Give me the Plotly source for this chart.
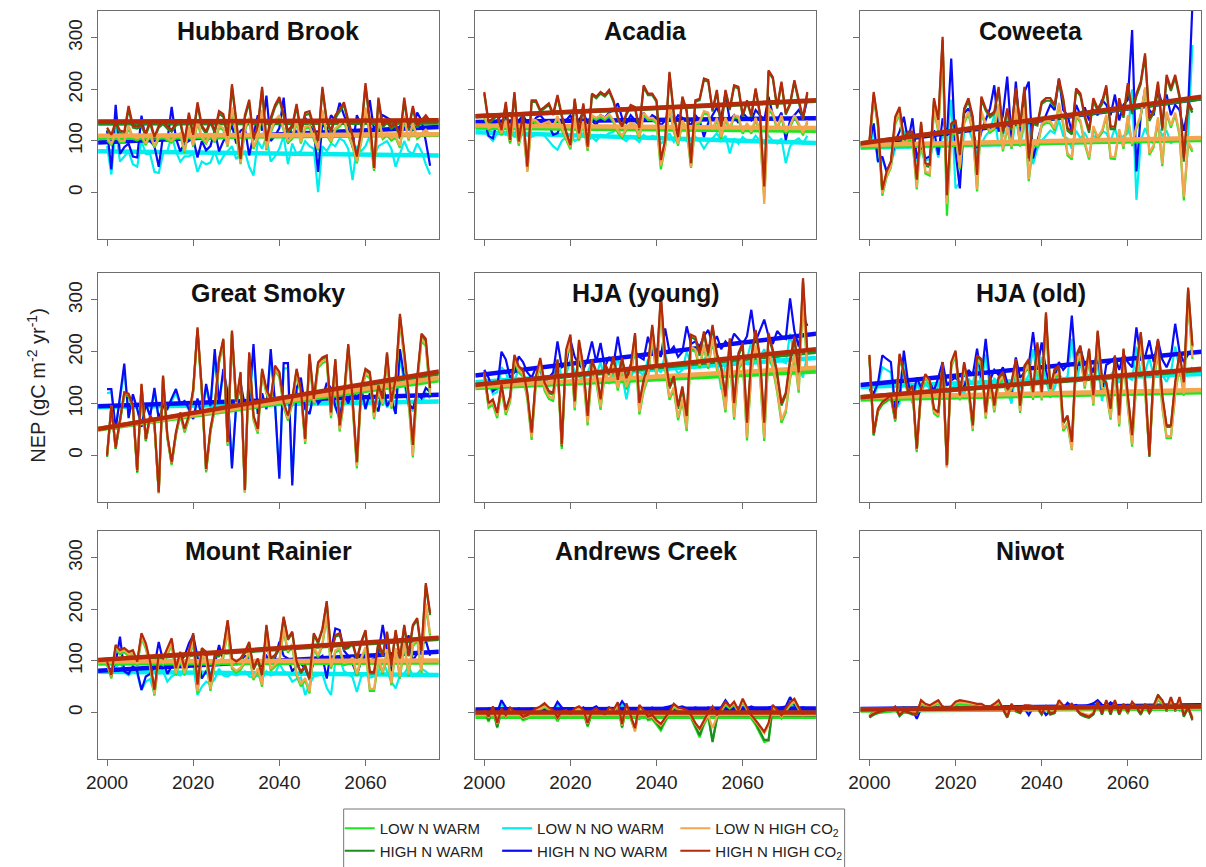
import plotly.graph_objects as go

# ---------------- data ----------------
YEARS = list(range(2000, 2076))
TREND_YEARS = [1997.9, 2077.1]

SERIES = ["LOW N WARM", "HIGH N WARM", "LOW N NO WARM", "HIGH N NO WARM",
          "LOW N HIGH CO<sub>2</sub>", "HIGH N HIGH CO<sub>2</sub>"]
SITES = ["Hubbard Brook", "Acadia", "Coweeta", "Great Smoky", "HJA (young)",
         "HJA (old)", "Mount Rainier", "Andrews Creek", "Niwot"]
X_TICKS = [2000, 2020, 2040, 2060]
Y_TICKS = [0, 100, 200, 300]

# ---- Hubbard Brook ----
HB_LNW = [101,92,111,97,97,126,104,101,106,92, 111,87,104,108,101,97,106,111,77,124,
          89,136,104,95,111,97,126,121,89,160, 111,55,121,140,85,104,155,82,116,136,
          145,121,97,104,136,95,124,126,104,82, 155,111,97,121,128,138,111,89,57,97,
          160,111,42,143,104,111,101,106,87,143, 101,131,104,111,118,108]
HB_HNW = [122,108,133,116,114,162,126,124,128,111, 135,104,126,133,124,118,130,135,94,150,
          108,170,126,114,136,116,153,147,106,204, 136,62,145,175,101,126,200,96,140,165,
          180,145,116,126,167,114,150,153,126,96, 200,136,116,145,157,170,136,106,66,116,
          206,136,45,179,126,136,124,130,104,178, 121,163,126,136,146,135]
HB_LNNW = [90,35,125,60,70,80,55,50,100,75, 75,40,38,75,80,110,80,60,70,70,
           75,40,60,55,58,80,55,70,80,90, 65,75,80,50,33,100,85,110,60,70,
           85,110,55,95,75,80,100,90,85,1, 90,80,95,90,105,100,85,24,90,80,
           90,110,70,90,95,100,85,50,75,100, 80,75,95,80,55,35]
HB_HNNW = [120,45,170,75,88,95,70,68,149,100, 100,90,50,110,100,166,105,80,95,100,
           105,68,100,82,90,120,80,100,110,130, 95,120,125,72,110,150,120,188,100,110,
           125,184,95,135,115,130,145,130,120,40, 135,120,150,140,174,150,130,88,150,130,
           140,179,120,140,150,145,140,125,128,145, 130,120,155,140,100,52]
HB_LNHC = [105,95,115,100,100,130,108,105,110,95, 115,90,108,112,105,100,110,115,80,128,
           92,140,108,98,115,100,130,125,92,165, 115,58,125,145,88,108,160,85,120,140,
           150,125,100,108,140,98,128,130,108,85, 160,115,100,125,132,142,115,92,60,100,
           165,115,45,148,108,115,105,110,90,148, 104,135,108,115,122,112]
HB_HNHC = [126,112,138,120,118,168,130,128,132,115, 140,108,130,138,128,122,134,140,98,155,
           112,175,130,118,140,120,158,152,110,210, 140,65,150,180,105,130,205,100,145,170,
           185,150,120,130,172,118,155,158,130,100, 205,140,120,150,162,175,140,110,70,120,
           212,140,48,184,130,140,128,135,108,184, 125,168,130,140,150,139]
HB_TREND_START = [106, 134, 80, 97, 110, 138]
HB_TREND_END = [112, 136, 72, 127, 113, 140]

# ---- Acadia ----
AC_LNW = [146,121,124,128,111,136,95,144,91,126, 42,138,136,128,131,134,124,144,121,104,
          84,141,101,134,81,146,141,146,141,148, 136,116,106,121,131,128,104,151,141,141,
          134,45,88,166,118,91,136,121,48,131, 134,154,151,118,141,104,141,121,146,144,
          114,131,114,141,116,-10,161,151,121,146, 114,126,146,131,111,136]
AC_HNW = [192,134,141,150,118,172,98,192,96,150, 46,176,176,157,163,170,150,186,147,115,
          88,179,112,170,86,189,183,192,186,196, 176,144,125,151,167,163,121,205,189,189,
          176,58,98,231,151,104,183,157,52,176, 179,218,215,157,196,124,196,160,205,202,
          147,176,147,199,151,8,234,221,163,212, 151,170,215,176,141,192]
AC_LNNW = [118,110,100,115,118,112,120,108,112,115, 110,108,112,115,110,100,90,83,100,108,
           112,100,105,115,100,108,100,112,110,115, 118,125,105,100,110,105,98,112,105,110,
           108,95,102,115,98,108,105,100,92,108, 100,85,98,105,115,100,110,76,105,95,
           108,100,98,110,100,95,110,100,95,105, 57,90,100,105,95,110]
AC_HNNW = [140,110,105,140,150,145,155,130,140,150, 135,130,145,150,140,130,112,115,135,140,
           150,130,140,155,135,140,130,150,145,155, 160,173,145,135,150,140,130,155,140,150,
           145,130,140,160,135,150,145,140,130,150, 140,108,135,150,165,145,190,140,150,135,
           155,145,140,160,150,140,186,150,140,155, 102,140,150,160,145,180]
AC_LNHC = [150,125,128,132,115,140,100,148,95,130, 40,142,140,132,135,138,128,148,125,108,
           88,145,105,138,85,150,145,150,145,152, 140,120,110,125,135,132,108,155,145,145,
           138,52,92,170,122,95,140,125,50,135, 138,158,155,122,145,108,145,125,150,148,
           118,135,118,145,120,-22,165,155,125,150, 118,130,150,135,115,140]
AC_HNHC = [195,137,144,153,121,176,102,195,99,153, 50,179,179,160,166,173,153,189,150,118,
           92,182,115,173,89,192,186,195,189,199, 179,147,128,154,170,166,125,208,192,192,
           179,63,102,234,154,108,186,160,57,179, 182,221,218,160,199,128,199,163,208,205,
           150,179,150,202,154,12,237,224,166,215, 154,173,218,179,144,195]
AC_TREND_START = [126, 148, 117, 137, 130, 148]
AC_TREND_END = [120, 178, 96, 144, 125, 179]

# ---- Coweeta ----
CW_LNW = [92,186,127,-6,30,48,133,151,90,101, 100,6,118,37,33,161,118,279,-45,111,
          114,45,134,153,116,2,154,130,116,122, 168,80,124,85,161,89,162,22,92,88,
          129,135,134,120,170,131,72,64,147,136, 94,64,125,104,116,147,66,65,119,85,
          146,90,124,146,200,73,88,142,51,153, 126,151,111,-15,95,79]
CW_HNW = [96,190,133,2,37,56,143,162,100,114, 114,20,133,52,50,178,137,296,-10,130,
          137,68,159,178,143,28,181,159,146,153, 200,114,159,121,197,127,200,60,133,130,
          172,178,178,166,216,178,120,113,198,187, 145,116,178,158,171,203,123,123,178,145,
          207,152,187,210,265,139,155,210,120,223, 197,223,184,60,171,155]
CW_LNNW = [88,120,60,65,40,55,85,100,120,85, 115,60,80,62,65,100,68,115,95,180,
           8,20,120,125,100,75,95,110,120,150, 90,110,150,85,145,95,130,140,55,85,
           100,110,120,115,140,110,105,85,120,105, 115,100,110,105,120,115,100,125,95,110,
           115,200,-14,100,125,105,95,130,110,120, 95,105,100,80,110,286]
CW_HNNW = [95,134,60,70,41,60,100,118,147,99, 144,66,92,66,70,121,73,144,110,260,
           79,8,154,163,120,86,118,140,163,208, 118,150,225,105,215,118,195,215,66,100,
           130,150,170,160,221,160,150,118,170,150, 165,140,160,150,180,170,150,190,140,170,
           180,315,41,150,200,160,150,200,170,190, 150,170,160,120,163,365]
CW_LNHC = [95,190,131,-2,33,51,137,155,93,105, 104,10,122,41,37,165,122,283,-22,115,
           118,49,138,157,120,6,158,134,120,126, 172,84,128,89,165,93,166,26,96,92,
           133,139,138,124,174,135,76,68,151,140, 98,68,129,108,120,151,70,69,123,89,
           150,94,128,150,204,77,92,146,55,157, 130,155,115,-8,99,83]
CW_HNHC = [99,195,137,5,41,60,147,166,105,118, 118,25,137,57,54,183,141,302,-5,134,
           141,73,163,183,147,34,186,163,150,157, 205,118,163,125,202,131,205,66,137,134,
           176,183,183,170,221,183,125,118,202,192, 150,121,183,163,176,208,128,128,183,150,
           212,157,192,215,270,144,160,215,125,228, 202,228,189,66,176,160]
CW_TREND_START = [89, 95, 87, 92, 92, 95]
CW_TREND_END = [102, 183, 104, 183, 106, 186]

# ---- Great Smoky ----
GS_LNW = [-3,92,12,67,117,114,91,-34,133,27, 72,58,-72,148,33,-19,39,77,44,70,
          121,240,121,-33,44,88,178,217,18,233, 95,153,-72,190,68,42,158,119,100,164,
          151,93,67,99,157,118,22,185,98,169, 178,182,72,175,46,104,203,97,-25,120,
          155,149,70,122,96,186,90,135,259,186, 106,-4,136,221,211,116]
GS_HNW = [-2,93,13,68,119,116,93,-32,135,29, 74,61,-73,151,36,-16,42,80,48,74,
          125,244,125,-30,48,93,183,222,23,238, 100,158,-70,196,74,48,164,125,106,170,
          158,100,74,106,164,125,29,193,106,177, 186,190,80,183,55,113,212,106,-16,129,
          164,158,80,132,106,196,100,145,268,196, 116,16,146,230,220,126]
GS_LNNW = [120,122,52,105,165,75,112,88,60,98, 78,122,72,92,88,105,120,98,100,88,
           72,105,78,130,92,190,98,158,115,-20, 98,132,92,98,200,80,115,88,192,98,
           -40,168,168,-50,125,142,88,80,115,98, 105,132,122,92,72,115,98,122,105,122,
           88,115,98,85,132,92,105,80,190,140, 95,85,112,100,120,110]
GS_HNNW = [128,128,50,110,177,72,118,90,55,100, 75,130,70,95,90,110,128,100,105,90,
           70,110,75,138,95,205,100,167,120,-25, 100,140,95,100,215,80,120,90,205,100,
           -45,178,178,-58,130,150,90,80,120,100, 110,140,130,95,70,120,100,130,110,130,
           90,120,100,85,140,95,110,80,205,150, 100,90,120,110,130,122]
GS_LNHC = [1,96,16,71,121,118,95,-30,137,31, 76,62,-73,152,37,-15,43,81,48,74,
           125,244,125,-29,48,92,182,221,22,237, 99,157,-71,194,72,46,162,123,104,168,
           155,97,71,103,161,122,26,189,102,173, 182,186,76,179,50,108,207,101,-21,124,
           159,153,74,126,100,190,94,139,263,190, 110,0,140,225,215,120]
GS_HNHC = [1,96,16,71,122,119,96,-29,138,32, 77,64,-71,154,39,-13,45,83,51,77,
           128,247,128,-26,51,96,186,225,26,241, 103,161,-67,199,77,51,167,128,109,173,
           161,103,77,109,167,128,32,196,109,180, 189,193,83,186,58,116,215,109,-13,132,
           167,161,83,135,109,199,103,148,273,200, 120,20,150,235,225,130]
GS_TREND_START = [50, 51, 93, 95, 51, 51]
GS_TREND_END = [145, 158, 104, 117, 150, 162]

# ---- HJA (young) ----
HY_LNW = [153,92,98,72,127,78,103,182,160,152, 108,30,139,174,125,109,105,169,12,187,
          216,87,205,154,58,166,142,88,157,138, 170,125,166,127,150,213,79,123,149,227,
          147,285,165,107,126,68,105,47,204,200, 168,209,167,222,166,140,83,194,69,164,
          184,29,157,208,156,28,200,167,122,63, 83,147,190,121,303,160]
HY_HNW = [159,98,105,79,134,85,111,190,168,161, 117,40,149,184,136,120,117,181,17,200,
          229,100,219,168,72,181,158,104,174,155, 187,142,184,145,168,232,97,142,168,248,
          168,305,187,129,149,90,129,71,228,224, 192,234,192,247,192,167,109,221,96,192,
          212,58,186,237,186,58,231,199,154,96, 116,180,224,155,336,195]
HY_LNNW = [150,140,118,122,170,160,135,145,165,158, 142,135,150,148,128,135,142,185,150,155,
           185,162,152,145,158,185,155,180,148,162, 150,190,155,108,150,168,160,155,185,165,
           170,160,195,165,172,158,165,200,175,178, 172,185,195,175,185,127,178,170,188,180,
           172,185,220,178,190,205,182,172,190,182, 178,235,190,168,150,195]
HY_HNNW = [165,150,124,130,200,185,150,160,191,180, 160,150,170,165,140,150,160,220,170,175,
           223,190,175,165,185,220,180,217,170,190, 175,229,180,140,175,200,190,185,229,200,
           205,190,245,200,210,190,200,249,215,220, 210,230,242,215,230,205,220,210,235,225,
           215,230,281,220,240,262,230,215,240,230, 225,303,240,210,270,250]
HY_LNHC = [158,97,103,77,132,83,108,187,165,157, 113,35,144,179,130,114,110,174,20,192,
           221,92,210,159,63,171,147,93,162,143, 175,130,171,132,155,218,84,128,154,232,
           152,290,170,112,131,73,110,52,209,205, 173,214,172,227,171,145,88,199,74,169,
           189,34,162,213,161,33,205,172,127,68, 88,152,195,126,308,165]
HY_HNHC = [162,101,108,82,137,88,114,194,172,165, 121,44,153,188,140,124,121,185,21,204,
           233,104,223,172,76,185,162,108,178,159, 191,146,188,149,172,236,101,146,172,252,
           172,310,191,133,153,95,133,76,233,229, 197,239,197,252,197,172,114,226,101,197,
           217,63,191,242,191,63,236,204,159,101, 121,185,229,160,342,200]
HY_TREND_START = [130, 136, 141, 154, 133, 136]
HY_TREND_END = [162, 200, 188, 235, 169, 205]

# ---- HJA (old) ----
HO_LNW = [190,38,85,98,104,110,65,190,155,115, 128,6,120,149,137,81,74,171,-22,170,
          192,106,169,124,47,181,174,71,142,83, 138,148,114,127,172,82,158,171,107,202,
          106,259,111,150,156,47,59,10,175,193, 129,187,96,221,128,121,69,172,56,184,
          94,17,144,215,125,0,143,201,92,33, 33,116,173,115,298,186]
HO_HNW = [191,39,87,100,106,113,68,193,158,119, 132,10,125,154,142,87,80,177,-22,177,
          199,113,177,132,55,190,183,80,151,93, 148,158,125,138,183,93,170,183,119,215,
          119,272,125,164,170,61,74,23,190,209, 145,203,113,238,145,138,87,190,74,203,
          113,36,164,235,145,-3,164,222,113,55, 55,138,196,138,320,209]
HO_LNNW = [125,115,135,170,165,160,88,100,180,130, 100,138,120,140,128,112,135,160,120,130,
           135,128,118,148,138,180,135,195,130,148, 140,150,125,100,165,130,140,155,205,150,
           190,145,115,130,158,145,152,225,140,178, 150,155,138,178,105,150,155,165,140,168,
           152,145,210,158,162,188,152,188,155,142, 160,210,168,150,162,170]
HO_HNNW = [128,120,140,193,186,180,90,110,202,140, 109,150,130,155,140,125,150,180,135,145,
           150,140,130,165,155,206,150,225,145,165, 155,170,140,120,189,150,160,175,238,170,
           218,165,130,150,180,165,175,270,160,206, 175,180,160,206,120,175,180,190,165,195,
           180,170,247,185,190,222,180,222,185,170, 190,254,200,180,195,205]
HO_LNHC = [194,42,89,102,108,114,69,194,159,119, 132,10,124,153,141,85,78,175,-24,174,
           196,110,173,128,51,185,178,75,146,87, 142,152,118,131,176,86,162,175,111,206,
           110,263,115,154,160,51,63,12,179,197, 133,191,100,225,132,125,73,176,60,188,
           98,21,148,219,129,2,147,205,96,37, 37,120,177,119,302,190]
HO_HNHC = [194,42,90,103,109,116,71,196,161,122, 135,13,128,157,145,90,83,180,-19,180,
           202,116,180,135,58,193,186,83,154,96, 151,161,128,141,186,96,173,186,122,218,
           122,276,128,167,173,64,77,26,193,212, 148,206,116,241,148,141,90,193,77,206,
           116,39,167,238,148,0,167,225,116,58, 58,141,199,141,324,212]
HO_TREND_START = [108, 112, 132, 136, 112, 112]
HO_TREND_END = [122, 165, 157, 200, 126, 167]

# ---- Mount Rainier ----
MR_LNW = [92,66,123,113,117,109,112,90,144,124, 87,33,100,92,112,131,72,104,72,104,
          137,37,107,100,42,93,93,106,159,85, 77,83,96,115,63,82,50,147,81,89,
          98,159,116,129,71,51,63,37,124,107, 131,184,85,117,121,92,94,103,71,102,
          123,42,42,100,74,119,53,121,66,131, 70,128,140,77,207,149]
MR_HNW = [96,70,128,118,122,115,118,96,151,131, 96,41,109,102,122,141,83,115,83,115,
          151,51,122,115,57,109,109,122,176,102, 96,102,115,134,83,102,70,167,102,109,
          122,183,141,154,96,76,89,63,151,134, 160,213,115,147,151,122,125,134,102,134,
          157,76,76,134,109,154,89,157,102,167, 109,167,180,117,247,189]
MR_LNNW = [80,78,85,100,78,72,80,75,44,60, 65,37,100,80,60,70,75,72,80,90,
           95,34,50,60,55,65,85,72,70,75, 72,75,80,70,68,72,65,80,72,75,
           95,80,75,60,65,68,34,55,70,72, 75,48,34,100,105,80,75,68,40,70,
           75,68,70,78,100,80,60,47,72,75, 90,70,75,85,80,72]
MR_HNNW = [82,80,95,147,80,75,90,80,44,70, 75,90,137,100,75,90,95,100,110,134,
           150,110,66,80,70,95,131,100,95,100, 95,100,110,105,95,100,90,110,100,105,
           137,110,105,80,90,95,85,66,100,105, 110,66,120,163,160,120,110,95,73,100,
           110,100,105,115,170,120,80,115,110,120, 150,100,115,130,140,110]
MR_LNHC = [96,70,127,117,121,113,116,94,148,128, 91,36,104,96,116,135,76,108,76,108,
           141,41,111,104,46,97,97,110,163,89, 81,87,100,119,67,86,54,151,85,93,
           102,163,120,133,75,55,67,41,128,111, 135,188,89,121,125,96,98,107,75,106,
           127,46,46,104,78,123,57,125,70,135, 74,132,144,81,211,153]
MR_HNHC = [99,73,131,121,125,118,121,99,154,134, 99,44,112,105,125,144,86,118,86,118,
           154,54,125,118,60,112,112,125,179,105, 99,105,118,137,86,105,73,170,105,112,
           125,186,144,157,99,79,92,66,154,137, 163,216,118,150,154,125,128,137,105,137,
           160,79,79,137,112,157,92,160,105,170, 112,170,183,120,251,193]
MR_TREND_START = [95, 101, 79, 81, 99, 102]
MR_TREND_END = [97, 143, 73, 118, 101, 145]

# ---- Andrews Creek ----
AN_LNW = [0,-18,5,-30,2,-12,3,-3,-6,-15, -12,-3,2,6,10,5,0,-17,-3,0,
          -8,2,6,0,-28,-3,2,-5,-8,5, 0,12,-30,10,-12,-35,8,0,-15,-13,
          -24,-35,-18,-3,10,5,2,0,-11,-28, -48,-24,-8,-55,-14,2,15,8,15,0,
          20,5,-12,-24,-40,-57,-55,10,0,-12, 2,14,20,5,-8,-6]
AN_HNW = [3,-15,10,-28,5,-10,8,0,-3,-12, -8,0,5,10,15,8,2,-14,0,3,
          -5,5,10,2,-25,0,5,-2,-5,8, 3,18,-28,15,-8,-32,12,3,-12,-10,
          -20,-31,-15,0,14,8,5,3,-8,-25, -44,-20,-5,-57,-10,5,18,10,18,2,
          24,8,-8,-20,-35,-53,-53,12,3,-8, 5,18,24,8,-5,-3]
AN_LNNW = [0,5,2,-3,18,5,2,0,5,-15, 2,5,0,2,6,5,2,15,6,2,
           2,5,0,6,2,5,8,2,5,6, 2,5,15,6,2,2,-14,5,2,6,
           2,5,6,8,10,6,8,5,2,6, 5,2,6,5,2,6,18,8,5,2,
           6,5,8,5,-12,2,6,8,5,6, 8,22,10,5,6,5]
AN_HNNW = [2,8,5,0,24,10,5,2,8,-12, 5,8,2,5,10,8,5,21,10,5,
           5,8,3,10,5,8,12,5,8,10, 5,8,22,10,5,5,-12,8,5,10,
           5,8,10,12,15,10,12,8,5,10, 8,5,10,8,5,10,24,12,8,5,
           10,8,12,8,-8,5,10,12,8,10, 12,30,15,8,10,8]
AN_LNHC = [2,-10,8,-22,5,-8,5,0,-3,-10, -8,0,5,8,12,8,2,-12,0,2,
           -5,5,8,2,-22,0,5,-2,-5,8, 2,15,-25,12,-8,-37,10,2,-10,-8,
           -18,-25,-12,0,12,8,5,2,-8,-22, -33,-18,-5,-30,-8,5,18,10,18,2,
           22,8,-8,-18,-28,-40,-25,12,3,-8, 5,15,22,8,-5,-3]
AN_HNHC = [5,-8,12,-20,8,-5,10,2,0,-8, -5,2,8,12,18,10,5,-10,2,5,
           -2,8,12,5,-20,3,8,0,-3,10, 5,20,-22,18,-5,-30,15,5,-8,-5,
           -15,-22,-10,2,17,10,8,5,-5,-20, -31,-15,0,12,-5,8,21,12,21,5,
           27,10,-5,-15,-25,-37,-20,15,5,-5, 8,20,27,10,-2,0]
AN_TREND_START = [-8, -2, 2, 6, -3, 0]
AN_TREND_END = [-8, -4, 4, 8, -3, 0]

# ---- Niwot ----
NW_LNW = [-9,-4,-1,0,2,2,7,-6,0,-1, -3,-3,17,11,9,13,17,7,5,7,
          15,17,16,15,13,12,12,8,8,12, 17,5,-8,12,2,-1,9,9,8,7,
          -3,9,-3,-1,17,9,7,12,5,-3, -6,-8,-3,15,-3,17,-3,17,-3,12,
          -1,15,7,-3,12,-1,9,25,17,2, 22,2,22,-5,7,-11]
NW_HNW = [-10,-4,0,2,4,3,10,-7,2,0, -4,-4,22,15,12,17,22,9,6,10,
          19,22,21,19,17,15,15,10,10,15, 22,6,-10,15,3,-1,12,12,10,9,
          -4,12,-4,-1,22,12,9,15,6,-4, -8,-10,-4,19,-4,22,-4,22,-4,15,
          -1,19,9,-4,15,-1,12,35,22,3, 28,3,28,-8,9,-15]
NW_LNNW = [-6,2,4,6,5,4,6,4,8,5, 4,-8,6,8,4,6,8,9,6,8,
           9,8,6,9,8,6,8,9,8,6, 9,8,6,8,6,9,6,-3,8,9,
           6,-3,2,8,9,6,15,9,12,8, 9,12,14,18,12,9,15,12,8,9,
           12,9,8,11,9,12,8,11,9,8, 11,9,4,6,11,9]
NW_HNNW = [-8,2,5,8,6,5,8,5,10,6, 5,-12,8,10,5,8,10,12,8,10,
           12,10,8,12,10,8,10,12,10,8, 12,10,8,10,8,12,8,-5,10,12,
           8,-5,2,10,12,8,19,12,15,10, 12,15,18,24,15,12,20,15,10,12,
           15,12,10,14,12,15,10,14,12,10, 14,12,5,8,14,12]
NW_LNHC = [-6,-1,2,3,5,5,10,-3,3,2, 0,0,20,14,12,16,20,10,8,10,
           18,20,19,18,16,15,15,11,11,15, 20,8,-5,15,5,2,12,12,11,10,
           0,12,0,2,20,12,10,15,8,0, -3,-5,0,18,0,20,0,20,0,15,
           2,18,10,0,15,2,12,28,20,5, 25,5,25,-2,10,-8]
NW_HNHC = [-8,-2,1,3,5,5,12,-5,3,1, -2,-2,24,17,14,19,24,11,8,12,
           21,24,23,21,19,17,17,12,12,17, 24,8,-8,17,5,1,14,14,12,11,
           -2,14,-2,1,24,14,11,17,8,-2, -5,-8,-2,21,-2,24,-2,24,-2,17,
           1,21,11,-2,17,1,14,33,24,5, 30,5,30,-5,11,-12]
NW_TREND_START = [4, 6, 5, 7, 5, 6]
NW_TREND_END = [8, 12, 9, 14, 10, 12]

PANELS = [
    (HB_LNW, HB_HNW, HB_LNNW, HB_HNNW, HB_LNHC, HB_HNHC, HB_TREND_START, HB_TREND_END),
    (AC_LNW, AC_HNW, AC_LNNW, AC_HNNW, AC_LNHC, AC_HNHC, AC_TREND_START, AC_TREND_END),
    (CW_LNW, CW_HNW, CW_LNNW, CW_HNNW, CW_LNHC, CW_HNHC, CW_TREND_START, CW_TREND_END),
    (GS_LNW, GS_HNW, GS_LNNW, GS_HNNW, GS_LNHC, GS_HNHC, GS_TREND_START, GS_TREND_END),
    (HY_LNW, HY_HNW, HY_LNNW, HY_HNNW, HY_LNHC, HY_HNHC, HY_TREND_START, HY_TREND_END),
    (HO_LNW, HO_HNW, HO_LNNW, HO_HNNW, HO_LNHC, HO_HNHC, HO_TREND_START, HO_TREND_END),
    (MR_LNW, MR_HNW, MR_LNNW, MR_HNNW, MR_LNHC, MR_HNHC, MR_TREND_START, MR_TREND_END),
    (AN_LNW, AN_HNW, AN_LNNW, AN_HNNW, AN_LNHC, AN_HNHC, AN_TREND_START, AN_TREND_END),
    (NW_LNW, NW_HNW, NW_LNNW, NW_HNNW, NW_LNHC, NW_HNHC, NW_TREND_START, NW_TREND_END),
]
for p in PANELS:
    for s in p[:6]:
        assert len(s) == len(YEARS), len(s)

# ---------------- style ----------------
COLORS = ["#1EE61E", "#1E8C1E", "#00EEEE", "#0A0AF5", "#F5A550", "#B52A0A"]
LEGENDS = ["legend", "legend", "legend2", "legend2", "legend3", "legend3"]
DRAW_ORDER = [2, 3, 0, 1, 4, 5]
FONT = "Liberation Sans, Arial, Helvetica, sans-serif"
W, H = 1206, 867
COL_PX = [(87, 431), (468, 812), (857, 1201)]
ROW_PX = [(11, 239), (273, 502), (531, 759)]
X_RANGE = [1997.93, 2077.0]
Y_RANGE = [-90, 352]

fig = go.Figure()
layout = dict(width=W, height=H, margin=dict(l=0, r=0, t=0, b=0),
              paper_bgcolor="white", plot_bgcolor="white",
              font=dict(family=FONT, color="#222"), annotations=[], shapes=[])

for i, p in enumerate(PANELS):
    r, c = divmod(i, 3)
    n = "" if i == 0 else str(i + 1)
    xa, ya = "x" + n, "y" + n
    x0, x1 = COL_PX[c]
    t0, t1 = ROW_PX[r]
    layout["xaxis" + n] = dict(
        domain=[x0 / W, x1 / W], range=X_RANGE, anchor=ya,
        showgrid=False, zeroline=False, showline=True, mirror=True,
        linecolor="#6e6e6e", linewidth=1, ticks="outside", ticklen=6,
        tickcolor="#6e6e6e", tickvals=X_TICKS, showticklabels=(r == 2),
        tickfont=dict(size=19, color="#222"))
    layout["yaxis" + n] = dict(
        domain=[1 - t1 / H, 1 - t0 / H], range=Y_RANGE, anchor=xa,
        showgrid=False, zeroline=False, showline=True, mirror=True,
        linecolor="#6e6e6e", linewidth=1, ticks="outside", ticklen=6,
        tickcolor="#6e6e6e", tickvals=Y_TICKS, showticklabels=(c == 0),
        tickangle=-90, ticklabelstandoff=2, tickfont=dict(size=19, color="#222"))
    for k in DRAW_ORDER:
        fig.add_trace(go.Scatter(
            x=YEARS, y=p[k], mode="lines", xaxis=xa, yaxis=ya,
            line=dict(color=COLORS[k], width=2.2),
            name=SERIES[k], legend=LEGENDS[k], legendrank=k + 1,
            showlegend=(i == 0), hoverinfo="skip"))
        fig.add_trace(go.Scatter(
            x=TREND_YEARS, y=[p[6][k], p[7][k]], mode="lines", xaxis=xa, yaxis=ya,
            line=dict(color=COLORS[k], width=4.5), showlegend=False,
            hoverinfo="skip"))
    layout["annotations"].append(dict(
        text="<b>" + SITES[i] + "</b>", xref=xa + " domain", yref=ya + " domain",
        x=0.5, y=1, xanchor="center", yanchor="top", yshift=-4, showarrow=False,
        font=dict(size=25, color="#111", family=FONT)))

layout["annotations"].append(dict(
    text="NEP (gC m<sup>-2</sup> yr<sup>-1</sup>)", xref="paper", yref="paper",
    x=24 / W, y=1 - 385 / H, xanchor="center", yanchor="middle", textangle=-90,
    showarrow=False, font=dict(size=20, color="#222", family=FONT)))

LEG_X = [331, 490, 670]
for j, name in enumerate(["legend", "legend2", "legend3"]):
    layout[name] = dict(x=LEG_X[j] / W, y=1 - 812 / H, xanchor="left", yanchor="top",
                        orientation="v", bgcolor="rgba(0,0,0,0)", borderwidth=0,
                        tracegroupgap=0, itemwidth=30,
                        font=dict(size=15, color="#222", family=FONT))
layout["shapes"].append(dict(type="rect", xref="paper", yref="paper",
                             x0=335 / W, x1=841 / W, y0=-0.02, y1=1 - 809 / H,
                             line=dict(color="#777", width=1)))

fig.update_layout(**layout)
fig.write_html("out.html")
